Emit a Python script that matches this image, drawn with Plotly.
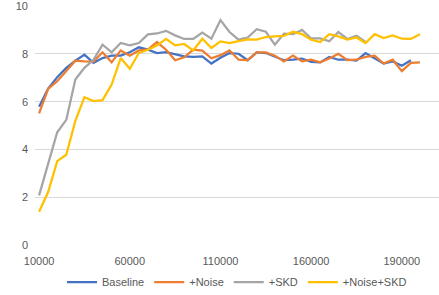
import plotly.graph_objects as go

categories = ["10000", "15000", "20000", "25000", "30000", "35000", "40000", "45000", "50000", "55000",
              "60000", "65000", "70000", "75000", "80000", "85000", "90000", "95000", "100000", "105000",
              "110000", "115000", "120000", "125000", "130000", "135000", "140000", "145000", "150000", "155000",
              "160000", "163000", "166000", "169000", "172000", "175000", "178000", "181000", "184000", "187000",
              "190000", "193000", "196000"]
tick_labels = ["10000", "60000", "110000", "160000", "190000"]
y_ticks = [0, 2, 4, 6, 8, 10]

baseline = [5.79, 6.55, 7.03, 7.42, 7.72, 7.97, 7.63, 7.83, 7.93, 7.93, 8.07, 8.28, 8.18, 8.04, 8.08,
            8.00, 7.90, 7.88, 7.90, 7.60, 7.84, 8.04, 8.01, 7.74, 8.07, 8.04, 7.90, 7.74, 7.76, 7.81,
            7.67, 7.65, 7.88, 7.76, 7.76, 7.72, 8.04, 7.83, 7.60, 7.69, 7.51, 7.74]
noise = [5.51, 6.54, 6.86, 7.28, 7.72, 7.69, 7.68, 8.07, 7.65, 8.15, 7.93, 8.15, 8.18, 8.50, 8.18,
         7.74, 7.86, 8.18, 8.14, 7.82, 7.95, 8.15, 7.76, 7.74, 8.07, 8.07, 7.93, 7.69, 7.93, 7.69,
         7.76, 7.65, 7.81, 8.01, 7.74, 7.76, 7.88, 7.93, 7.60, 7.76, 7.28, 7.63, 7.65]
skd = [2.08, 3.40, 4.72, 5.24, 6.93, 7.42, 7.76, 8.39, 8.07, 8.46, 8.36, 8.46, 8.82, 8.86, 8.97,
       8.78, 8.63, 8.63, 8.90, 8.64, 9.42, 8.92, 8.60, 8.69, 9.04, 8.93, 8.39, 8.85, 8.83, 9.01,
       8.65, 8.65, 8.53, 8.92, 8.63, 8.76, 8.50]
noise_skd = [1.39, 2.22, 3.51, 3.78, 5.20, 6.19, 6.03, 6.07, 6.72, 7.83, 7.38, 8.04, 8.18, 8.35, 8.63,
             8.36, 8.42, 8.15, 8.64, 8.25, 8.53, 8.46, 8.54, 8.61, 8.60, 8.71, 8.74, 8.76, 8.93, 8.83,
             8.60, 8.50, 8.83, 8.74, 8.60, 8.69, 8.46, 8.83, 8.67, 8.78, 8.64, 8.63, 8.83]

series = [("Baseline", baseline, "#4472C4"),
          ("+Noise", noise, "#ED7D31"),
          ("+SKD", skd, "#A5A5A5"),
          ("+Noise+SKD", noise_skd, "#FFC000")]

fig = go.Figure()
for name, vals, color in series:
    fig.add_trace(go.Scatter(x=categories[:len(vals)], y=vals, name=name, mode="lines",
                             line=dict(color=color, width=2.25)))

font = dict(family="Liberation Sans, Arial, sans-serif", size=11, color="#595959")
fig.update_layout(
    width=439, height=295,
    margin=dict(l=35, r=0, t=6, b=50, autoexpand=False),
    paper_bgcolor="white", plot_bgcolor="white",
    font=font,
    showlegend=True,
    legend=dict(orientation="h", x=0.5, xanchor="center", yref="container", y=0.044,
                yanchor="middle", font=font, itemwidth=30, tracegroupgap=0),
    xaxis=dict(type="category", categoryorder="array", categoryarray=categories,
               range=[-0.45, 44.1], tickmode="array", tickvals=tick_labels, ticktext=tick_labels,
               showgrid=False, showline=False, zeroline=False, ticks="", tickfont=font,
               automargin=False, ticklabelstandoff=8),
    yaxis=dict(range=[0, 10.01], tickmode="array", tickvals=y_ticks, showgrid=True,
               gridcolor="#D9D9D9", gridwidth=1, zeroline=False, showline=False, ticks="",
               tickfont=font, ticklabelstandoff=6, automargin=False),
)
fig.write_html("out.html", config={"displayModeBar": False},
               post_script="document.body.style.margin='0';document.body.style.padding='0';")
